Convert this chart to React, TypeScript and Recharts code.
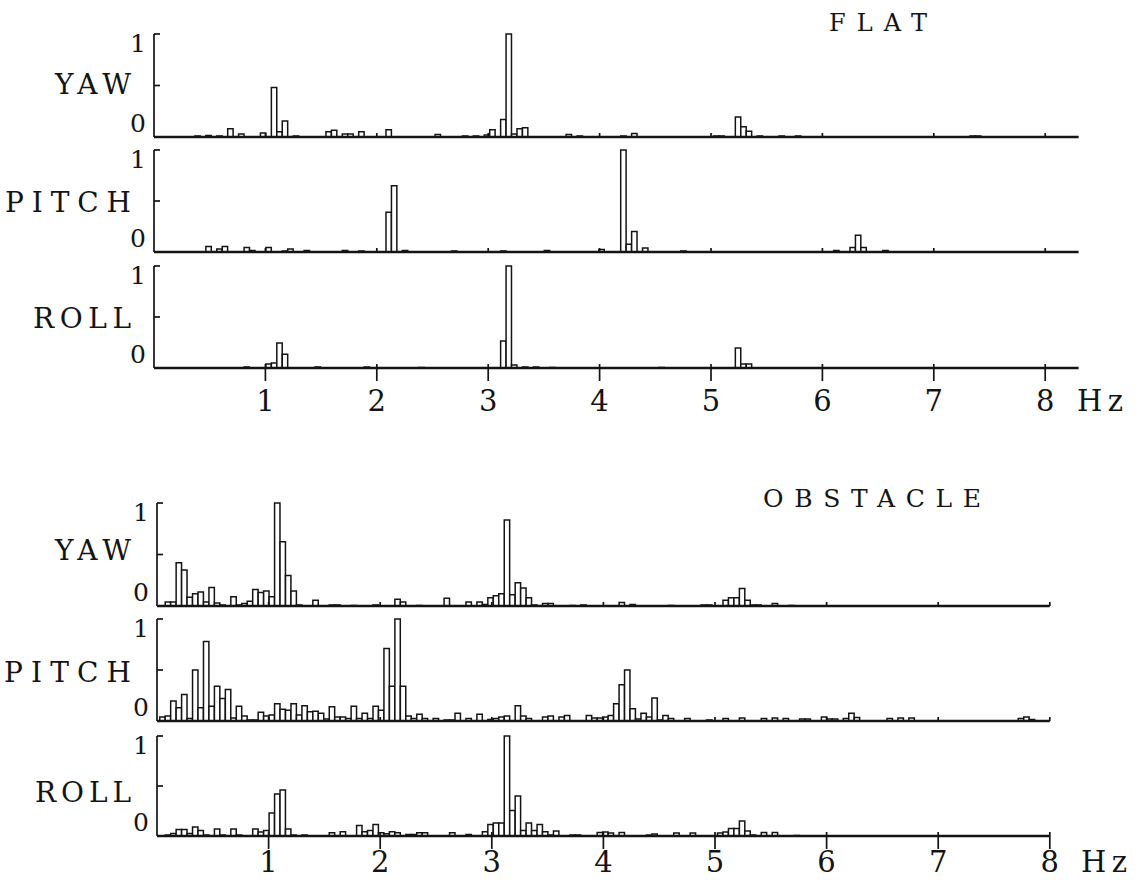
import React from 'react';
import { BarChart, Bar, XAxis, YAxis } from 'recharts';

// spectrum bin width in Hz; every bar is one bin
const BIN_HZ = 0.049;
const HZ_TICKS = [1, 2, 3, 4, 5, 6, 7, 8];
const AMP_TICKS = [0, 0.5, 1];

// [bin index, relative amplitude]
const FLAT_YAW: [number, number][] = [
  [8, 0.01], [10, 0.015], [12, 0.01], [14, 0.08], [16, 0.03], [20, 0.04], [22, 0.48], [23, 0.05],
  [24, 0.155], [26, 0.01], [32, 0.05], [33, 0.065], [35, 0.03], [36, 0.03], [38, 0.05], [43, 0.07],
  [52, 0.025], [57, 0.01], [59, 0.01], [61, 0.02], [62, 0.07], [64, 0.17], [65, 1.0], [66, 0.03],
  [67, 0.08], [68, 0.09], [76, 0.025], [78, 0.01], [86, 0.01], [88, 0.035], [103, 0.01], [104, 0.01],
  [107, 0.195], [108, 0.1], [109, 0.055], [111, 0.01], [115, 0.01], [118, 0.01], [150, 0.01], [151, 0.01],
];

const FLAT_PITCH: [number, number][] = [
  [10, 0.055], [12, 0.03], [13, 0.055], [17, 0.045], [18, 0.015], [21, 0.045], [24, 0.01], [25, 0.03],
  [28, 0.015], [35, 0.015], [38, 0.01], [43, 0.39], [44, 0.65], [46, 0.015], [55, 0.01], [64, 0.01],
  [72, 0.015], [82, 0.025], [86, 1.0], [87, 0.075], [88, 0.2], [90, 0.04], [97, 0.01], [125, 0.015],
  [128, 0.045], [129, 0.165], [130, 0.045], [134, 0.015],
];

const FLAT_ROLL: [number, number][] = [
  [17, 0.01], [21, 0.04], [22, 0.05], [23, 0.245], [24, 0.135], [30, 0.01], [39, 0.01], [49, 0.005],
  [64, 0.265], [65, 1.0], [66, 0.03], [68, 0.01], [70, 0.01], [73, 0.005], [93, 0.005], [107, 0.195],
  [108, 0.04], [109, 0.04],
];

const OBS_YAW: [number, number][] = [
  [2, 0.04], [3, 0.04], [4, 0.42], [5, 0.35], [6, 0.085], [7, 0.12], [8, 0.135], [9, 0.04], [10, 0.18],
  [11, 0.03], [12, 0.01], [14, 0.09], [15, 0.01], [16, 0.025], [17, 0.045], [18, 0.16], [19, 0.13],
  [20, 0.145], [21, 0.09], [22, 1.0], [23, 0.625], [24, 0.295], [25, 0.145], [26, 0.01], [29, 0.055],
  [32, 0.01], [33, 0.01], [36, 0.005], [40, 0.01], [44, 0.065], [45, 0.04], [48, 0.005], [53, 0.075],
  [57, 0.04], [59, 0.04], [60, 0.015], [61, 0.08], [62, 0.1], [63, 0.12], [64, 0.835], [65, 0.11],
  [66, 0.225], [67, 0.175], [68, 0.08], [69, 0.01], [71, 0.025], [72, 0.025], [76, 0.005], [78, 0.01],
  [85, 0.035], [87, 0.015], [94, 0.005], [100, 0.01], [101, 0.01], [104, 0.055], [105, 0.08], [106, 0.08],
  [107, 0.17], [108, 0.055], [109, 0.01], [110, 0.01], [113, 0.025], [116, 0.005],
];

const OBS_PITCH: [number, number][] = [
  [1, 0.04], [2, 0.05], [3, 0.195], [4, 0.13], [5, 0.26], [6, 0.025], [7, 0.5], [8, 0.13], [9, 0.78],
  [10, 0.145], [11, 0.34], [12, 0.22], [13, 0.31], [14, 0.03], [15, 0.145], [16, 0.05], [17, 0.01],
  [18, 0.01], [19, 0.085], [20, 0.05], [21, 0.06], [22, 0.17], [23, 0.115], [24, 0.105], [25, 0.17],
  [26, 0.06], [27, 0.15], [28, 0.09], [29, 0.095], [30, 0.075], [31, 0.02], [32, 0.14], [33, 0.04],
  [34, 0.04], [35, 0.025], [36, 0.145], [37, 0.025], [38, 0.075], [39, 0.025], [40, 0.145], [41, 0.105],
  [42, 0.71], [43, 0.34], [44, 1.0], [45, 0.34], [46, 0.05], [47, 0.025], [48, 0.065], [49, 0.025],
  [51, 0.025], [53, 0.01], [54, 0.01], [55, 0.075], [57, 0.025], [59, 0.065], [61, 0.015], [62, 0.025],
  [63, 0.04], [64, 0.05], [66, 0.15], [67, 0.05], [68, 0.025], [71, 0.04], [72, 0.05], [74, 0.04],
  [75, 0.055], [79, 0.055], [80, 0.03], [81, 0.03], [82, 0.04], [83, 0.055], [84, 0.17], [85, 0.355],
  [86, 0.5], [87, 0.12], [88, 0.02], [89, 0.075], [90, 0.04], [91, 0.225], [92, 0.01], [93, 0.055],
  [94, 0.025], [97, 0.025], [101, 0.01], [104, 0.025], [107, 0.03], [111, 0.025], [113, 0.03],
  [115, 0.025], [118, 0.02], [119, 0.02], [122, 0.04], [123, 0.02], [124, 0.02], [126, 0.025],
  [127, 0.075], [128, 0.035], [134, 0.025], [136, 0.03], [138, 0.03], [158, 0.025], [159, 0.04],
  [160, 0.015],
];

const OBS_ROLL: [number, number][] = [
  [2, 0.01], [3, 0.025], [4, 0.065], [5, 0.065], [6, 0.025], [7, 0.09], [8, 0.055], [9, 0.01], [11, 0.07],
  [12, 0.01], [14, 0.07], [15, 0.01], [18, 0.07], [19, 0.04], [20, 0.055], [21, 0.23], [22, 0.42],
  [23, 0.46], [24, 0.07], [25, 0.01], [27, 0.01], [32, 0.033], [34, 0.043], [37, 0.105], [38, 0.043],
  [39, 0.056], [40, 0.115], [41, 0.033], [42, 0.023], [43, 0.043], [44, 0.033], [46, 0.015], [47, 0.015],
  [48, 0.033], [49, 0.033], [54, 0.033], [57, 0.015], [60, 0.043], [61, 0.115], [62, 0.13], [63, 0.13],
  [64, 1.0], [65, 0.255], [66, 0.4], [67, 0.056], [68, 0.13], [69, 0.056], [70, 0.115], [71, 0.043],
  [72, 0.01], [73, 0.05], [76, 0.01], [77, 0.01], [81, 0.035], [82, 0.04], [83, 0.03], [85, 0.035],
  [90, 0.01], [91, 0.02], [95, 0.03], [98, 0.03], [103, 0.03], [104, 0.04], [105, 0.075], [106, 0.075],
  [107, 0.15], [108, 0.05], [109, 0.01], [111, 0.035], [113, 0.035], [117, 0.005],
];

const INK = '#141414';
const FONT = '"DejaVu Serif", "Liberation Serif", serif';
const W = 1138;
const H = 883;
const Y_AXIS_W = 30;
const MT = 10;

const GROUPS = {
  flat: { x0: 154, pxPerHz: 111.4, maxHz: 8.3, labelDy: 43 },
  obstacle: { x0: 157, pxPerHz: 111.6, maxHz: 8.0, labelDy: 36 },
};

const PANELS = [
  { id: 'fy', name: 'YAW', series: FLAT_YAW, group: 'flat', top: 34, base: 137, labelled: false, nameY: 94, nameW: 76 },
  { id: 'fp', name: 'PITCH', series: FLAT_PITCH, group: 'flat', top: 150, base: 252, labelled: false, nameY: 212, nameW: 126 },
  { id: 'fr', name: 'ROLL', series: FLAT_ROLL, group: 'flat', top: 266, base: 368, labelled: true, nameY: 328, nameW: 98 },
  { id: 'oy', name: 'YAW', series: OBS_YAW, group: 'obstacle', top: 503, base: 606, labelled: false, nameY: 560, nameW: 76 },
  { id: 'op', name: 'PITCH', series: OBS_PITCH, group: 'obstacle', top: 619, base: 721, labelled: false, nameY: 682, nameW: 127 },
  { id: 'or', name: 'ROLL', series: OBS_ROLL, group: 'obstacle', top: 736, base: 836, labelled: true, nameY: 802, nameW: 96 },
] as const;

const toRows = (series: readonly (readonly [number, number])[]) => {
  const m = new Map<number, number>();
  series.forEach(([bin, amp]) => m.set(bin, Math.max(amp, m.get(bin) || 0)));
  return [...m.entries()]
    .sort((a, b) => a[0] - b[0])
    .map(([bin, amp]) => ({ hz: +(bin * BIN_HZ).toFixed(4), amp }));
};

const HzTick = (props: any) => {
  const { x, y, payload, labelled, labelDy } = props;
  return (
    <g>
      <line x1={x} x2={x} y1={y - 4} y2={y + (labelled ? 13 : 0)} stroke={INK} strokeWidth={1.7} />
      {labelled && (
        <text x={x} y={y + labelDy} textAnchor="middle" fontSize={29} fontFamily={FONT} fill={INK}>
          {payload.value}
        </text>
      )}
    </g>
  );
};

const AmpTick = (props: any) => {
  const { x, y, payload } = props;
  const v = payload.value;
  return (
    <g>
      {v > 0 && <line x1={x} x2={x + 6} y1={y} y2={y} stroke={INK} strokeWidth={1.7} />}
      {v === 1 && (
        <text x={x - 16} y={y + 18} textAnchor="middle" fontSize={25} fontFamily={FONT} fill={INK}>1</text>
      )}
      {v === 0 && (
        <text x={x - 16} y={y - 5} textAnchor="middle" fontSize={25} fontFamily={FONT} fill={INK}>0</text>
      )}
    </g>
  );
};

const Panel = ({ p }: { p: (typeof PANELS)[number] }) => {
  const g = GROUPS[p.group];
  const plotW = g.maxHz * g.pxPerHz;
  const xAxisH = p.labelled ? g.labelDy + 8 : 6;
  const chartH = MT + (p.base - p.top) + xAxisH;
  const barW = BIN_HZ * g.pxPerHz - 0.06;
  return (
    <div style={{ position: 'absolute', left: 0, top: p.top - MT }}>
      <BarChart
        width={W}
        height={chartH}
        data={toRows(p.series)}
        margin={{ top: MT, bottom: 0, left: g.x0 - Y_AXIS_W, right: W - g.x0 - plotW }}
      >
        <XAxis
          dataKey="hz"
          type="number"
          domain={[0, g.maxHz]}
          ticks={HZ_TICKS}
          interval={0}
          height={xAxisH}
          tickSize={0}
          tickMargin={0}
          tickLine={false}
          axisLine={{ stroke: INK, strokeWidth: 2.3 }}
          tick={(tp: any) => <HzTick {...tp} labelled={p.labelled} labelDy={g.labelDy} />}
        />
        <YAxis
          type="number"
          domain={[0, 1]}
          ticks={AMP_TICKS}
          interval={0}
          width={Y_AXIS_W}
          tickSize={0}
          tickMargin={0}
          tickLine={false}
          axisLine={{ stroke: INK, strokeWidth: 1.7 }}
          tick={(tp: any) => <AmpTick {...tp} />}
        />
        <Bar dataKey="amp" fill="#fff" stroke={INK} strokeWidth={1.5} barSize={barW} isAnimationActive={false} />
      </BarChart>
    </div>
  );
};

export default function App() {
  return (
    <div style={{ position: 'absolute', left: 0, top: 0, width: W, height: H, background: '#fff', overflow: 'hidden' }}>
      {PANELS.map((p) => (
        <Panel key={p.id} p={p} />
      ))}
      <svg width={W} height={H} style={{ position: 'absolute', left: 0, top: 0, pointerEvents: 'none' }}>
        <g fontFamily={FONT} fill={INK}>
          <text x={829} y={31} fontSize={24} textLength={98} lengthAdjust="spacing">FLAT</text>
          <text x={763} y={507} fontSize={25} textLength={218} lengthAdjust="spacing">OBSTACLE</text>
          {PANELS.map((p) => (
            <text key={p.id} x={131 - p.nameW} y={p.nameY} fontSize={28} textLength={p.nameW} lengthAdjust="spacing">
              {p.name}
            </text>
          ))}
          <text x={1077} y={411} fontSize={29} textLength={46} lengthAdjust="spacing">Hz</text>
          <text x={1081} y={872} fontSize={29} textLength={46} lengthAdjust="spacing">Hz</text>
        </g>
      </svg>
    </div>
  );
}
